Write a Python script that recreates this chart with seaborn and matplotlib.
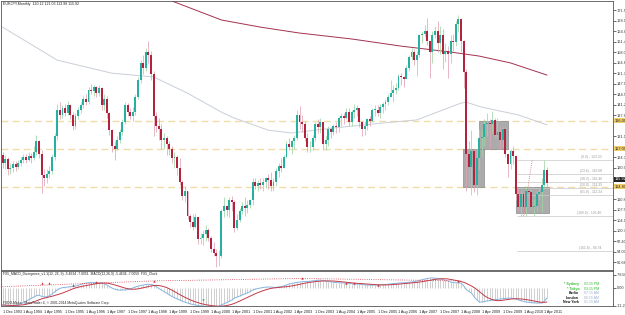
import numpy as np
import pandas as pd
import matplotlib
matplotlib.use("Agg")
import matplotlib.pyplot as plt
import matplotlib.transforms as mtransforms
from matplotlib.patches import Rectangle
import seaborn as sns

sns.set_theme(style="white")
plt.rcParams['font.family'] = ['Liberation Sans', 'DejaVu Sans']

# ---- monthly EURJPY candles, Dec 1993 .. May 2011 ----
first_open = 125.0
close = [
    122.5,                                                                    # 1993 Dec
    123.8, 120.5, 121.0, 122.0, 121.2, 122.5, 123.5, 124.5, 123.5, 124.8, 124.0, 126.0,  # 1994
    129.5, 125.5, 118.5, 117.5, 119.0, 120.0, 124.5, 131.0, 139.5, 138.0, 140.0, 138.5,  # 1995
    141.0, 138.0, 134.5, 137.5, 139.5, 141.0, 143.0, 142.0, 146.0, 145.5, 146.8, 145.0,  # 1996
    146.5, 141.0, 143.0, 138.5, 133.0, 128.0, 127.0, 130.0, 132.5, 135.5, 141.0, 139.0,  # 1997
    137.5, 139.0, 143.5, 149.0, 154.5, 153.0, 158.0, 157.0, 151.0, 137.5, 134.5, 133.5,  # 1998
    130.0, 130.5, 128.5, 127.0, 124.0, 124.5, 121.0, 116.5, 112.0, 113.5, 105.5, 103.5,  # 1999
    102.0, 105.0, 98.0, 98.5, 99.5, 101.0, 98.5, 95.0, 93.5, 92.5, 92.5, 107.0,          # 2000
    108.5, 107.5, 110.5, 110.0, 101.5, 104.0, 107.0, 108.5, 108.0, 109.0, 110.5, 116.5,  # 2001
    115.0, 116.0, 115.5, 116.5, 117.5, 117.0, 115.0, 116.5, 120.0, 121.5, 121.0, 124.5,  # 2002
    128.5, 127.5, 129.5, 130.5, 138.0, 135.5, 135.0, 130.5, 127.5, 127.5, 130.5, 135.0,  # 2003
    134.0, 135.5, 128.5, 130.0, 133.5, 132.5, 134.5, 134.0, 137.0, 137.5, 137.0, 139.0,  # 2004
    135.5, 139.0, 139.5, 140.0, 135.5, 133.5, 134.5, 136.5, 136.0, 139.5, 139.5, 138.5,  # 2005
    140.5, 141.5, 142.0, 143.5, 145.0, 146.0, 146.5, 150.5, 150.0, 149.5, 153.0, 156.5,  # 2006
    158.0, 155.7, 157.3, 163.5, 164.0, 165.0, 161.5, 158.0, 163.5, 165.0, 161.0, 163.5,  # 2007
    157.5, 158.5, 157.5, 161.8, 161.2, 167.0, 168.6, 161.5, 151.8, 125.5, 121.1, 126.3,  # 2008
    115.5, 124.0, 130.4, 130.7, 135.0, 135.2, 134.9, 136.4, 131.4, 132.4, 129.8, 133.3,  # 2009
    125.5, 122.0, 126.3, 124.6, 112.6, 108.3, 112.6, 108.3, 113.6, 113.2, 108.3, 108.6,  # 2010
    112.5, 113.0, 115.5, 120.12, 115.92,                                                 # 2011
]
high = [
    126.0,
    125.0, 124.5, 122.5, 123.0, 123.0, 123.5, 124.5, 125.5, 125.5, 126.0, 125.8, 128.0,
    131.5, 130.0, 126.5, 120.5, 120.5, 121.5, 125.5, 132.0, 141.5, 142.0, 141.0, 141.5,
    142.3, 141.5, 139.0, 138.5, 140.5, 142.0, 144.0, 144.5, 147.0, 147.8, 147.5, 147.3,
    147.5, 146.8, 144.5, 144.0, 139.0, 133.5, 129.5, 131.0, 133.5, 136.5, 142.0, 141.7,
    140.0, 140.5, 144.5, 150.0, 155.5, 157.0, 159.5, 161.5, 158.5, 152.0, 139.0, 137.0,
    135.0, 132.0, 131.0, 129.5, 128.0, 126.0, 125.0, 124.0, 117.0, 115.0, 113.0, 106.0,
    106.0, 106.5, 105.0, 100.0, 101.0, 102.5, 101.5, 99.0, 97.0, 95.0, 94.5, 107.8,
    111.5, 109.0, 111.5, 112.0, 110.5, 106.0, 108.0, 110.0, 111.5, 110.5, 111.0, 117.5,
    117.5, 117.0, 117.5, 117.5, 118.0, 119.0, 119.5, 117.5, 121.0, 122.5, 124.0, 125.0,
    129.5, 130.5, 130.0, 131.5, 139.5, 140.9, 138.0, 136.0, 132.0, 129.5, 131.5, 135.5,
    136.5, 137.0, 134.0, 131.0, 134.5, 134.0, 135.0, 135.5, 137.5, 138.5, 138.5, 140.0,
    140.0, 139.5, 141.5, 141.0, 139.5, 136.0, 136.0, 137.0, 137.5, 140.0, 141.0, 141.0,
    141.5, 142.0, 143.0, 144.5, 149.0, 147.5, 148.0, 151.0, 151.5, 150.5, 154.0, 157.0,
    159.5, 159.0, 158.5, 164.0, 165.0, 166.8, 168.9, 161.5, 165.0, 166.5, 168.0, 166.5,
    165.5, 161.0, 160.0, 163.5, 164.0, 168.0, 169.96, 169.0, 162.0, 152.5, 129.5, 133.0,
    127.0, 127.0, 133.5, 133.5, 136.5, 138.5, 136.5, 139.2, 137.0, 137.0, 134.5, 134.0,
    134.0, 125.0, 127.0, 127.9, 125.0, 114.0, 113.5, 113.5, 115.0, 115.0, 114.0, 111.0,
    113.5, 114.5, 117.5, 123.3, 121.03,
]
low = [
    121.0,
    120.5, 118.6, 119.0, 119.5, 120.0, 120.5, 121.5, 122.5, 122.5, 123.0, 122.5, 123.5,
    125.0, 124.0, 112.8, 115.0, 116.0, 117.5, 119.0, 123.5, 130.0, 136.5, 137.0, 137.5,
    138.0, 136.5, 133.0, 133.5, 136.5, 138.5, 140.0, 141.0, 141.5, 144.5, 144.0, 143.5,
    144.0, 139.5, 139.5, 137.0, 131.5, 126.0, 123.5, 126.5, 129.0, 131.5, 135.0, 137.5,
    136.5, 136.0, 138.0, 143.0, 148.0, 151.0, 152.0, 154.5, 149.0, 131.0, 132.5, 130.0,
    127.0, 127.0, 125.0, 125.0, 122.5, 121.0, 118.5, 115.5, 110.5, 110.0, 104.5, 102.0,
    101.0, 101.5, 96.5, 96.5, 96.0, 97.5, 97.5, 94.0, 92.5, 89.0, 89.5, 92.0,
    105.0, 105.5, 105.0, 107.0, 100.2, 101.0, 103.5, 106.0, 105.5, 106.5, 108.0, 109.0,
    114.0, 113.5, 114.0, 113.5, 114.5, 114.0, 113.5, 113.5, 115.0, 118.0, 119.5, 121.0,
    124.0, 126.5, 125.5, 127.0, 130.0, 133.5, 132.5, 129.5, 126.0, 126.0, 126.5, 129.5,
    132.0, 132.0, 126.5, 126.5, 128.0, 130.5, 131.5, 132.0, 132.5, 134.5, 135.0, 136.5,
    134.5, 134.5, 137.0, 137.5, 134.0, 131.0, 131.5, 133.0, 134.5, 135.5, 137.5, 137.5,
    137.0, 138.5, 139.5, 141.0, 143.5, 142.0, 144.5, 146.0, 147.5, 147.0, 149.5, 152.0,
    155.5, 154.0, 150.5, 156.5, 161.0, 163.0, 160.5, 149.8, 154.5, 162.5, 158.0, 157.5,
    152.5, 155.0, 149.8, 154.5, 158.5, 160.0, 164.5, 158.0, 146.5, 113.6, 115.0, 112.1,
    113.0, 112.1, 120.5, 124.5, 128.0, 131.0, 127.0, 132.0, 130.5, 130.5, 126.8, 127.5,
    124.5, 118.0, 120.5, 122.0, 110.5, 107.3, 105.5, 106.0, 105.5, 111.0, 107.5, 105.5,
    107.0, 110.5, 106.6, 114.5, 113.98,
]

# MACD main line, one value per month
macd_main = [
    -10.6, -10.8, -11.0, -11.0, -10.9, -10.7, -10.4, -9.8, -9.0, -8.2, -7.5, -6.6, -5.8,
    -4.9, -4.7, -5.4, -5.8, -5.6, -5.0, -3.9, -2.7, -1.4, -0.6, -0.1, 0.1, 0.3,
    0.5, 0.6, 0.9, 1.3, 1.8, 2.3, 2.7, 2.9, 3.0, 3.0, 2.9, 2.8, 2.7,
    2.2, 1.5, 0.6, -0.3, -1.0, -1.4, -1.6, -1.5, -1.5, -1.2, -0.8, -0.3,
    0.3, 0.8, 1.2, 1.5, 1.8, 2.0, 1.8, 1.5,
    0.5, -0.6, -1.6, -2.5, -3.4, -4.5, -5.4, -6.2, -6.9, -7.6, -8.3, -8.9, -9.4,
    -9.9, -10.3, -10.6, -10.9, -11.1, -11.3, -11.4, -11.4, -11.5, -11.6, -11.6, -11.4,
    -10.6, -9.8, -9.2, -8.4, -7.6, -6.4, -5.8, -5.2, -4.5, -3.9, -3.2, -2.5, -1.5,
    -1.0, -0.6, -0.3, 0.0, 0.2, 0.3, 0.3, 0.1, 0.1, 0.3,
    0.6, 1.0, 1.6, 2.1, 2.5, 2.8, 3.1, 3.3, 3.5, 3.6, 3.7, 3.8, 4.0, 4.2, 4.4, 4.5,
    4.2, 3.9, 3.6, 3.4, 3.2, 3.0, 2.9, 2.8, 2.7,
    2.6, 2.4, 2.3, 2.2, 2.1, 2.0, 1.8, 1.6, 1.5, 1.4, 1.4, 1.5, 1.5,
    1.6, 1.7, 1.8, 2.0, 2.2, 2.4, 2.5, 2.7, 2.8, 2.9, 3.0, 3.2, 3.3,
    3.6, 3.9, 4.3, 4.7, 5.1, 5.5, 5.7, 5.8,
    5.7, 5.5, 5.2, 4.8, 4.4, 3.9, 3.3, 3.0, 2.8, 2.8, 2.7,
    1.0, -1.2, -2.4, -3.3, -5.5, -7.4, -8.8,
    -8.8, -8.5, -8.2, -7.9, -7.6, -7.4, -7.2, -7.0, -6.8, -6.6, -6.5, -6.4,
    -6.6, -7.0, -7.5, -8.0, -8.4, -8.8, -9.0, -9.2, -9.3, -9.4, -9.4, -9.4, -8.2, -6.4,
]

# moving averages as drawn on the chart (month index, price)
gray_ma_idx = [0, 21, 42, 58, 71, 84, 89, 102, 111, 127, 146, 159, 176, 178, 184, 198, 209]
gray_ma_val = [166.1, 155.5, 151.3, 150.1, 144.9, 138.8, 136.9, 133.0, 132.1, 133.7,
               135.3, 136.3, 141.7, 142.0, 140.4, 137.9, 134.7]
red_ma_idx = [65, 84, 99, 114, 134, 153, 172, 183, 195, 209]
red_ma_val = [174.5, 168.4, 166.1, 164.2, 162.3, 160.0, 158.1, 156.8, 154.6, 150.7]

# analyst drawings
level_lines = [136.0, 127.0, 114.8]
box_left = [176.8, 182.9, 197.3]
box_right = [184.8, 194.0, 209.8]
box_top = [127.0, 136.0, 114.8]
box_bottom = [114.8, 127.0, 106.4]
fib_high, fib_low = 123.3, 105.4
fib_levels = [0.0, 23.6, 38.2, 50.0, 61.8, 100.0, 161.8]

# divergence marks in the MACD window
div_idx = [0, 58, 115, 176]
div_val = [0.5, 4.0, 5.5, 4.0]
arrow_idx = [15, 18, 27, 36, 58, 115, 132, 135, 144, 175]
arrow_val = [2.7, 2.7, 1.5, 3.3, 3.9, 5.8, 2.7, 2.7, 1.5, 3.9]

clock_names = ["* Sydney", "* Tokyo", "Berlin", "London", "New York"]
clock_times = ["03:15 PM", "03:15 PM", "07:15 AM", "06:15 AM", "01:15 AM"]

n = len(close)
idx = np.arange(n)
dates = pd.date_range("1993-12-01", periods=n, freq="MS")
opn = np.array([first_open] + close[:-1])
cls = np.array(close)
hi = np.maximum(np.array(high), np.maximum(opn, cls))
lo = np.minimum(np.array(low), np.minimum(opn, cls))
bull = cls >= opn

macd = np.array(macd_main)
signal = pd.Series(macd).rolling(9, min_periods=1).mean().values  # MT4 uses an SMA signal

fig = plt.figure(figsize=(6.25, 3.15), dpi=100)
fig.patch.set_facecolor("white")
ax = fig.add_axes([0.0016, 0.1429, 0.979, 0.854])
ax2 = fig.add_axes([0.0016, 0.0286, 0.979, 0.111], sharex=ax)
for a in (ax, ax2):
    a.set_facecolor("white")
    for s in a.spines.values():
        s.set_color("#555555")
        s.set_linewidth(0.6)

xmin, xmax = -0.6, 234.3
ax.set_xlim(xmin, xmax)
ax.set_ylim(88.1, 174.5)

# levels and boxes sit behind the candles
for v in level_lines:
    ax.axhline(v, color="#f0dcaa", lw=1.0, ls=(0, (5, 3)), zorder=1)
for l, r, t, b in zip(box_left, box_right, box_top, box_bottom):
    ax.add_patch(Rectangle((l, b), r - l, t - b, facecolor="#ababab",
                           edgecolor="#8c8c8c", lw=0.5, zorder=1.5))

sns.lineplot(x=gray_ma_idx, y=gray_ma_val, ax=ax, color="#c9ced8", lw=0.7, zorder=2)
sns.lineplot(x=red_ma_idx, y=red_ma_val, ax=ax, color="#a3314f", lw=0.7, zorder=2)

# candles
wick_col = np.where(bull, "#9fd6a6", "#e2a3b3")
body_col = np.where(bull, "#25b0a0", "#b3223f")
ax.vlines(idx, lo, hi, colors=wick_col, lw=0.55, zorder=3)
ax.bar(idx, np.maximum(np.abs(cls - opn), 0.25), bottom=np.minimum(opn, cls),
       width=0.74, color=body_col, linewidth=0, zorder=4)

# fibonacci
fib_price = [fib_high - (fib_high - fib_low) * f / 100 for f in fib_levels]
for f, p in zip(fib_levels, fib_price):
    ax.hlines(p, 197.5, xmax, color="#c8c8c8", lw=0.5, zorder=2)
    ax.text(230, p + 0.3, f"({f:.1f}) - {p:.2f}", fontsize=2.4, color="#9a9a9a",
            ha="right", va="bottom", zorder=5)
ax.plot([200, 203.3], [fib_low, fib_high], color="#d06070", lw=0.6, ls=":", zorder=5)

# axis labels on the right, MT4 style; the highlighted labels cover the plain ones
marked = level_lines + [close[-1]]
ticks = [t for t in 171.54 - 3.37 * np.arange(25) if min(abs(t - m) for m in marked) > 1.8]
ax.yaxis.tick_right()
ax.set_yticks(ticks)
ax.yaxis.set_major_formatter(matplotlib.ticker.FormatStrFormatter("%.3f"))
ax.tick_params(axis="y", labelsize=2.8, length=2, width=0.5, pad=1, colors="#333333")
ax.tick_params(axis="x", bottom=False, labelbottom=False)
ax.set_xlabel("")
ax.set_ylabel("")
trans = mtransforms.blended_transform_factory(ax.transAxes, ax.transData)
for v in level_lines:
    ax.text(1.003, v, f"{v:.3f}", transform=trans, fontsize=2.8, va="center", ha="left",
            clip_on=False, bbox=dict(boxstyle="square,pad=0.15", fc="#f0cf6a", ec="none"))
ax.text(1.003, close[-1] + 0.6, f"{close[-1]:.3f}", transform=trans, fontsize=2.8,
        va="bottom", ha="left", color="white", clip_on=False,
        bbox=dict(boxstyle="square,pad=0.15", fc="#222222", ec="none"))
ax.text(0.004, 0.995, "EURJPY,Monthly  120.12 121.03 113.98 115.92",
        transform=ax.transAxes, fontsize=2.6, va="top", ha="left", color="#222222")

# MACD window
ax2.set_ylim(-11.2, 10.0)
ax2.vlines(idx, 0, macd, colors="#b4b4b4", lw=0.45, zorder=1)
sns.lineplot(x=idx, y=macd, ax=ax2, color="#86b6e0", lw=0.7, zorder=2)
sns.lineplot(x=idx, y=signal, ax=ax2, color="#c23a48", lw=0.7, zorder=3)
ax2.plot(div_idx, div_val, color="#d04050", lw=0.6, ls=":", zorder=3)
ax2.scatter(arrow_idx, arrow_val, marker="^", s=3, color="#c8303c", zorder=4, linewidths=0)
ax2.scatter([77], [-7.6], marker="v", s=3, color="#3cb050", zorder=4, linewidths=0)
ax2.yaxis.tick_right()
ax2.set_yticks([7.6343, 0.0, -11.2157])
ax2.set_yticklabels(["7.6343", "0.00", "-11.2157"])
ax2.tick_params(axis="y", labelsize=2.8, length=2, width=0.5, pad=1, colors="#333333")
ax2.set_xlabel("")
ax2.set_ylabel("")
tick_idx = list(range(0, n, 8))
ax2.set_xticks(tick_idx)
ax2.set_xticklabels([f"1 {d:%b %Y}" for d in dates[tick_idx]], ha="left")
ax2.tick_params(axis="x", labelsize=2.7, length=2, width=0.5, pad=1, colors="#222222")
ax2.set_xlim(xmin, xmax)

ax2.text(0.004, 0.96, "FX5_MACD_Divergence_v1.1(12, 26, 9) -5.4634 -7.0051  "
         "MACD(12,26,9) -5.4634 -7.0050  FX5_Clock",
         transform=ax2.transAxes, fontsize=2.4, va="top", ha="left", color="#222222")
ax2.text(0.004, 0.04, "FXDD-Malta - MetaTrader 4, \u00a9 2001-2014 MetaQuotes Software Corp.",
         transform=ax2.transAxes, fontsize=2.4, va="bottom", ha="left", color="#222222")
for k, (nm, tm) in enumerate(zip(clock_names, clock_times)):
    yy = 0.62 - k * 0.13
    col = "#33bb33" if k < 2 else "#111111"
    ax2.text(0.945, yy, nm, transform=ax2.transAxes, fontsize=2.5, ha="right",
             va="center", color=col, fontweight="bold")
    ax2.text(0.952, yy, tm, transform=ax2.transAxes, fontsize=2.5, ha="left",
             va="center", color="#33bb33" if k < 2 else "#9aaed0")

fig.savefig("out.png", dpi=100, facecolor="white")
